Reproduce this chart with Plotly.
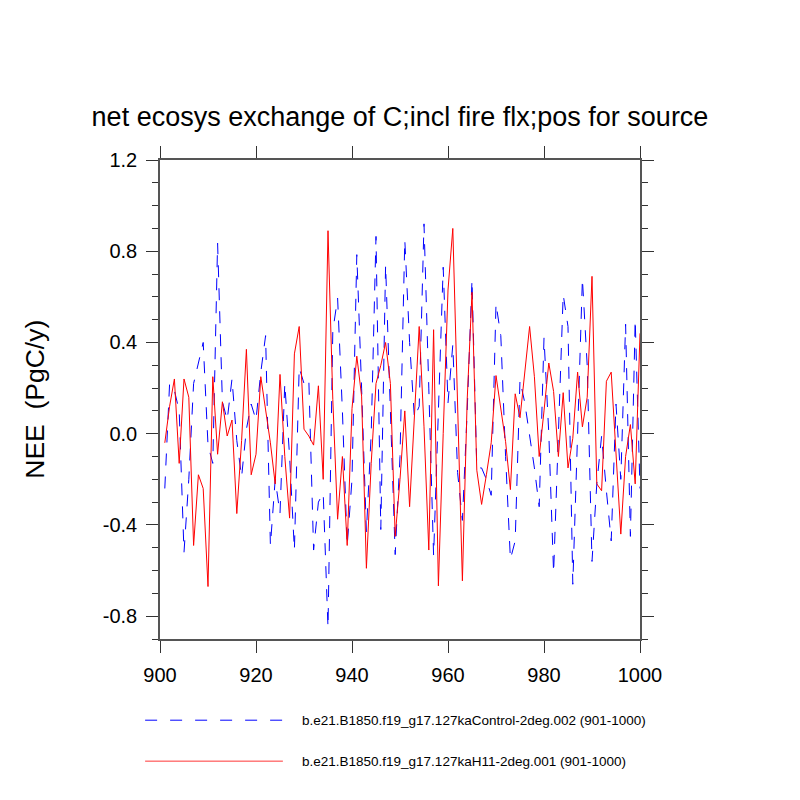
import plotly.graph_objects as go

# years 901-1000
years = list(range(901, 1001))

# b.e21.B1850.f19_g17.127kaControl-2deg.002 (blue dashed)
control = [
    -0.24, 0.22, 0.19, 0.10, -0.52, -0.20, 0.22, 0.31, 0.40, -0.05,
    -0.13, 0.835, 0.14, 0.06, 0.24, -0.03, -0.19, 0.02, 0.13, 0.06,
    0.27, 0.43, -0.49, -0.20, -0.35, 0.22, -0.10, -0.51, 0.29, 0.22,
    0.24, -0.51, -0.30, -0.26, -0.85, 0.45, 0.595, 0.10, -0.49, -0.20,
    0.785, 0.20, -0.43, 0.0, 0.865, -0.42, 0.74, 0.10, -0.53, -0.10,
    0.85, 0.40, 0.07, 0.12, 0.92, 0.20, -0.535, 0.10, 0.73, 0.135,
    0.39, -0.17, -0.38, 0.10, 0.675, -0.15, -0.15, -0.20, -0.27, 0.57,
    0.43, -0.10, -0.55, -0.47, 0.235, 0.135, 0.0, -0.15, -0.32, 0.42,
    0.0, -0.61, 0.0, 0.61, 0.47, -0.66, 0.0, 0.68, 0.30, -0.56,
    -0.22, -0.01, -0.25, -0.47, 0.13, -0.20, 0.48, -0.45, 0.50, -0.24,
]

# b.e21.B1850.f19_g17.127kaH11-2deg.001 (red solid)
h11 = [
    -0.04, 0.12, 0.24, -0.13, 0.24, 0.16, -0.49, -0.18, -0.24, -0.67,
    0.25, -0.09, 0.14, -0.01, 0.06, -0.35, -0.03, 0.37, -0.18, -0.09,
    0.25, 0.10, -0.04, -0.22, 0.26, -0.10, -0.37, 0.35, 0.47, 0.02,
    -0.01, -0.05, 0.21, -0.20, 0.89, 0.15, -0.375, -0.10, -0.49, 0.11,
    0.34, 0.165, -0.59, -0.13, 0.22, 0.30, 0.40, 0.22, -0.45, -0.20,
    0.10, -0.32, 0.10, 0.47, 0.03, -0.51, 0.456, -0.667, 0.0, 0.63,
    0.90, 0.13, -0.645, 0.15, 0.62, -0.16, -0.31, -0.18, -0.04, 0.255,
    0.10, -0.035, -0.245, 0.175, 0.07, 0.26, 0.47, 0.25, -0.10, 0.10,
    0.31, 0.185, -0.10, 0.18, -0.15, -0.02, 0.27, 0.03, 0.16, 0.69,
    -0.22, -0.25, 0.23, 0.27, -0.08, -0.44, -0.10, 0.04, -0.22, 0.44,
]

names = [
    "b.e21.B1850.f19_g17.127kaControl-2deg.002 (901-1000)",
    "b.e21.B1850.f19_g17.127kaH11-2deg.001 (901-1000)",
]

x_ticks = [900, 920, 940, 960, 980, 1000]
y_ticks = [-0.8, -0.4, 0.0, 0.4, 0.8, 1.2]
y_labels = ["-0.8", "-0.4", "0.0", "0.4", "0.8", "1.2"]

fig = go.Figure()
fig.add_trace(go.Scatter(x=years, y=control, mode="lines", name=names[0],
                         line=dict(color="#0000ff", width=1, dash="12px,11px")))
fig.add_trace(go.Scatter(x=years, y=h11, mode="lines", name=names[1],
                         line=dict(color="#ff0000", width=1)))

axis_common = dict(showline=True, linecolor="#555555", linewidth=1.5, mirror="allticks",
                   ticks="outside", tickcolor="#333333", tickwidth=1.2, ticklen=12,
                   showgrid=False, zeroline=False,
                   tickfont=dict(family="Liberation Sans, Arial", size=20, color="black"))

fig.update_xaxes(range=[900, 1000], tickvals=x_ticks, ticklabelstandoff=5, **axis_common)
fig.update_yaxes(range=[-0.9, 1.2], tickvals=y_ticks, ticktext=y_labels, ticklabelstandoff=5,
                 minor=dict(dtick=0.1, tick0=0, ticks="outside", ticklen=6,
                            tickcolor="#333333", tickwidth=1),
                 **axis_common)

# legend drawn below the plot
fig.add_shape(type="line", xref="paper", yref="paper", x0=-0.031, x1=0.256, y0=-0.1695, y1=-0.1695,
              line=dict(color="#0000ff", width=1, dash="12px,13px"))
fig.add_shape(type="line", xref="paper", yref="paper", x0=-0.031, x1=0.256, y0=-0.255, y1=-0.255,
              line=dict(color="#ff0000", width=0.8))
for i, yy in enumerate([-0.1695, -0.255]):
    fig.add_annotation(text=names[i], xref="paper", yref="paper", x=0.2917, y=yy,
                       xanchor="left", yanchor="middle", showarrow=False,
                       font=dict(family="Liberation Sans, Arial", size=13.5, color="black"))

fig.add_annotation(text="NEE  (PgC/y)", xref="paper", yref="paper", x=-0.262, y=0.5,
                   textangle=-90, showarrow=False, xanchor="center", yanchor="middle",
                   font=dict(family="Liberation Sans, Arial", size=26.5, color="black"))

# the page body adds an 8px offset, so margins are shifted to keep the plot at 160..640
fig.update_layout(
    width=800, height=800,
    title=dict(text="net ecosys exchange of C;incl fire flx;pos for source",
               x=(400 - 8) / 800, xanchor="center", yref="container", y=1 - 109 / 800,
               yanchor="middle",
               font=dict(family="Liberation Sans, Arial", size=27, color="black")),
    showlegend=False,
    plot_bgcolor="white", paper_bgcolor="white",
    margin=dict(l=152, r=168, t=152, b=169),
)

fig.write_html("out.html")
